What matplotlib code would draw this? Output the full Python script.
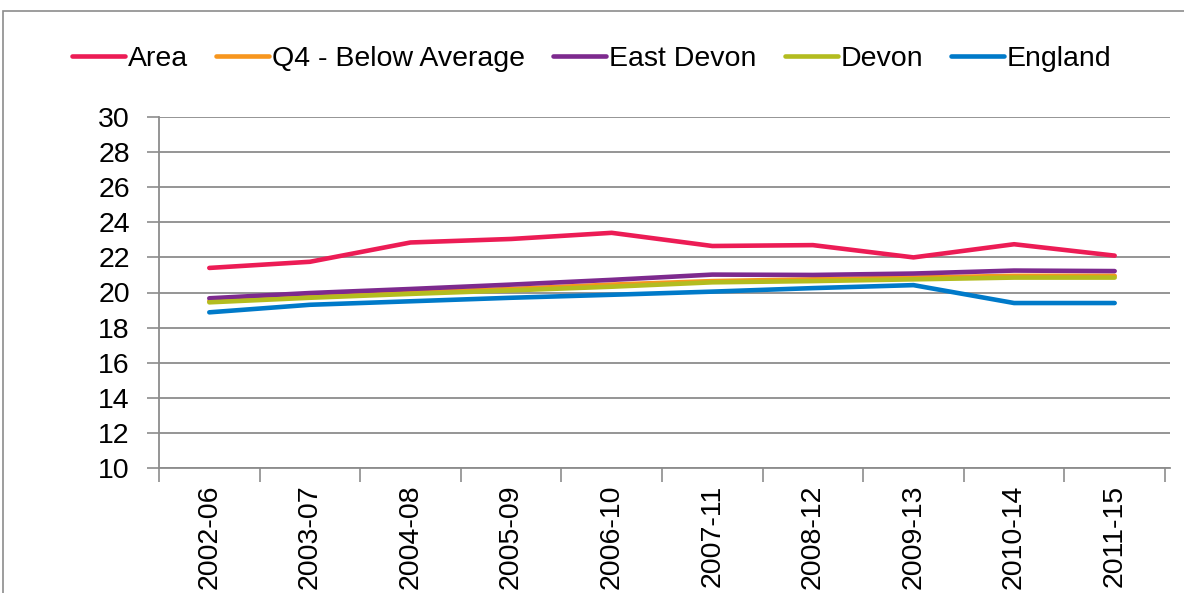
import numpy as np
import matplotlib
matplotlib.use('agg')
import matplotlib.pyplot as plt
from matplotlib.patches import Rectangle

plt.rcParams['font.family'] = ['Liberation Sans', 'DejaVu Sans']

periods = ['2002-06', '2003-07', '2004-08', '2005-09', '2006-10',
           '2007-11', '2008-12', '2009-13', '2010-14', '2011-15']
area = [21.4, 21.75, 22.85, 23.05, 23.4, 22.65, 22.7, 22.0, 22.75, 22.1]
q4 = [19.5, 19.8, 20.0, 20.2, 20.45, 20.65, 20.75, 20.85, 20.95, 20.95]
east_devon = [19.67, 19.97, 20.2, 20.45, 20.72, 21.02, 21.0, 21.08, 21.25, 21.22]
devon = [19.44, 19.7, 19.92, 20.12, 20.33, 20.58, 20.65, 20.75, 20.85, 20.85]
england = [18.87, 19.3, 19.5, 19.7, 19.87, 20.05, 20.25, 20.42, 19.4, 19.4]

series = [('Area', area, '#EC1C55'),
          ('Q4 - Below Average', q4, '#F7961E'),
          ('East Devon', east_devon, '#7D2A8E'),
          ('Devon', devon, '#B3BC1F'),
          ('England', england, '#007AC9')]

fs = 20.5

fig = plt.figure(figsize=(11.84, 5.93), dpi=100)
# outer chart frame
fig.patches.append(Rectangle((3 / 1184, -0.1), 1.2, 1 - 11 / 593 + 0.1,
                             transform=fig.transFigure, fill=False,
                             edgecolor='#8C8C8C', linewidth=1.2))

ax = fig.add_axes([159 / 1184, 125 / 593, 1011 / 1184, 351 / 593])
x = np.arange(len(periods))
for name, vals, col in series:
    ax.plot(x, vals, color=col, linewidth=3.3, label=name, solid_capstyle='round')

ax.set_ylim(10, 30)
ax.set_yticks(np.arange(10, 31, 2))
ax.set_xlim(-0.5, 9.55)
ax.set_xticks(np.arange(-0.5, 10, 1))
ax.set_xticklabels([])
ax.set_xticks(x, minor=True)
ax.set_xticklabels(periods, minor=True, rotation=90, fontsize=fs)
ax.tick_params(axis='x', which='major', length=10, width=1.2, color='#8C8C8C')
ax.tick_params(axis='x', which='minor', length=0, pad=12)
ax.tick_params(axis='y', length=9, width=1.2, color='#8C8C8C', labelsize=fs, pad=12)
ax.grid(axis='y', color='#8C8C8C', linewidth=1.3)
ax.set_axisbelow(True)
for s in ['top', 'right']:
    ax.spines[s].set_visible(False)
for s in ['left', 'bottom']:
    ax.spines[s].set_color('#8C8C8C')
    ax.spines[s].set_linewidth(1.3)

fig.legend(loc='center', bbox_to_anchor=(0.5, 1 - 59 / 593), ncol=5,
           frameon=False, fontsize=fs, handlelength=1.85, handletextpad=0.1,
           columnspacing=1.0)

fig.savefig('out.png', dpi=100)
